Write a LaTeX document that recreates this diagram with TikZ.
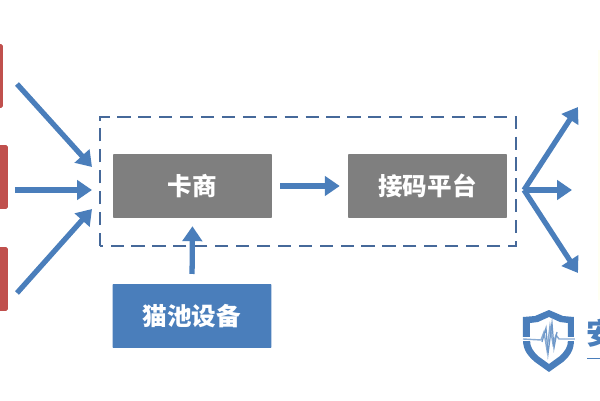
\documentclass[tikz,border=0pt]{standalone}
\usepackage{fontspec}
\newfontfamily\cjk{Noto Sans CJK SC}
\usetikzlibrary{arrows.meta}
\definecolor{boxgray}{HTML}{7F7F7F}
\definecolor{boxblue}{HTML}{4A7EBB}
\definecolor{boxred}{HTML}{C0504D}
\definecolor{dashblue}{HTML}{46699A}
\definecolor{paleyellow}{HTML}{FFFFF2}
\tikzset{
  flowbox/.style={minimum width=3.18cm, minimum height=1.28cm, inner sep=0pt, rounded corners=0.5pt,
    text=white, font=\cjk\bfseries\fontsize{14pt}{16pt}\selectfont},
  redbox/.style={fill=boxred, minimum width=1.4cm, minimum height=1.28cm, inner sep=0pt, rounded corners=1pt},
  flowarrow/.style={draw=boxblue, line width=3pt, -{Triangle[length=8.5pt,width=11pt]}},
}
\begin{document}
\begin{tikzpicture}[x=0.02cm,y=0.02cm]
  \useasboundingbox (0,0) rectangle (600,400);

  % pale strip at the right edge
  \fill[paleyellow] (598,100) rectangle (600,350);

  % red sources at the left edge
  \node[redbox] (srcA) at (-32,324) {};
  \node[redbox] (srcB) at (-27,223) {};
  \node[redbox] (srcC) at (-27,121) {};

  % dashed frame
  \draw[dashblue, line width=1.7pt, dash pattern=on 7.5pt off 4.4pt] (100,154) rectangle (516,283);

  % boxes
  \node[flowbox, fill=boxgray] (card) at (192.5,214) {卡商};
  \node[flowbox, fill=boxgray] (platform) at (427.5,214) {接码平台};
  \node[flowbox, fill=boxblue] (pool) at (192,84) {猫池设备};

  % free arrow ends
  \coordinate (srcAout) at (17,316);
  \coordinate (srcBout) at (15,210);
  \coordinate (srcCout) at (17,107);
  \coordinate (inA) at (92,233);
  \coordinate (inB) at (92,210);
  \coordinate (inC) at (92,191);
  \coordinate (fork) at (524,210);
  \coordinate (outA) at (578,293);
  \coordinate (outB) at (572,210);
  \coordinate (outC) at (578,127);

  % incoming arrows
  \draw[flowarrow] (srcAout) -- (inA);
  \draw[flowarrow] (srcBout) -- (inB);
  \draw[flowarrow] (srcCout) -- (inC);

  % arrows between boxes
  \draw[flowarrow, shorten <=4.5pt, shorten >=4.5pt] (card) -- (platform);
  \draw[flowarrow, shorten <=5.5pt, shorten >=4.5pt] (pool.north) -- (card.south);

  % outgoing arrows
  \draw[flowarrow] (fork) -- (outA);
  \draw[flowarrow] (fork) -- (outB);
  \draw[flowarrow] (fork) -- (outC);

  % shield mark
  \fill[boxblue, even odd rule] (549,28) -- (535,38) .. controls (528,44) and (523,50) .. (523,60) -- (523,83) -- (535,84) -- (549,90) -- (563,84) -- (574,83) -- (574,60) .. controls (574,50) and (570,44) .. (563,38) -- cycle
    (549,36) -- (538,44) .. controls (533,49) and (530,53) .. (530,60) -- (530,77) -- (538,78) -- (549,83) -- (560,78) -- (568,77) -- (568,60) .. controls (568,53) and (565,49) .. (560,44) -- cycle;
  \draw[white, line width=2pt] (521,61) -- (577,61);
  \draw[boxblue!65!white, line width=0.8pt] (523,61) -- (541,60) -- (544,68) -- (547,50) -- (550,74) -- (553,56) -- (556,65) -- (559,61) -- (575,61);
  \draw[boxblue!80!white, line width=0.7pt] (542,58) -- (546,72) -- (548,46) -- (552,77) -- (554,52) -- (557,68);

  % cut-off word mark
  \node[text=boxblue, font=\cjk\bfseries\fontsize{17pt}{19pt}\selectfont, inner sep=0pt, anchor=west] (brand) at (586,67) {安};
  \fill[boxblue] (587,41) rectangle (600,42.5);
\end{tikzpicture}
\end{document}
